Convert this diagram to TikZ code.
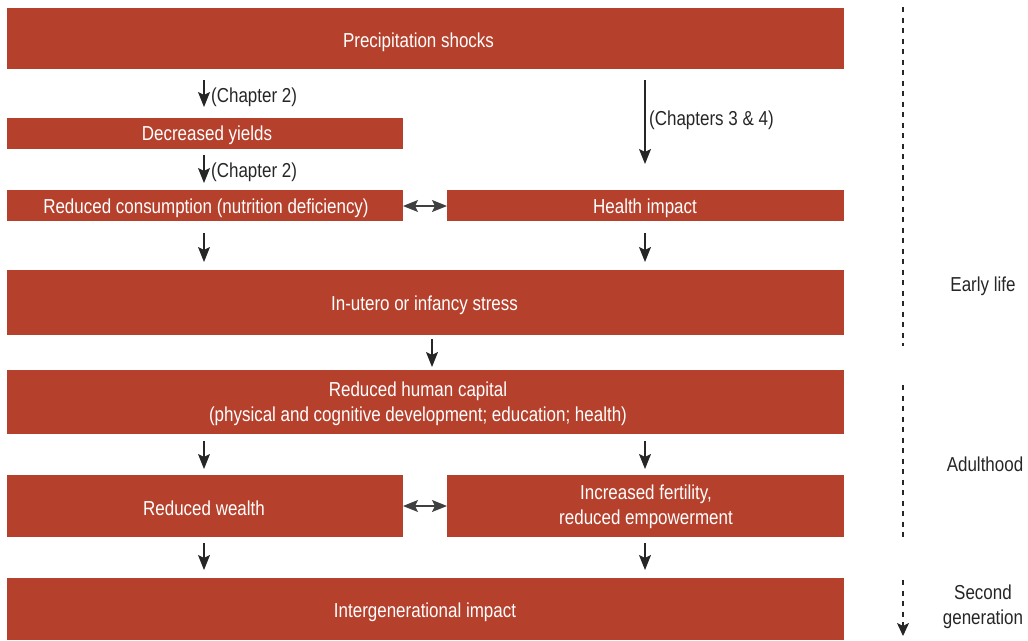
\documentclass[tikz,border=0pt]{standalone}
\usepackage{fontspec}
\setmainfont[FakeStretch=0.84]{Liberation Sans}
\usetikzlibrary{arrows.meta}
\definecolor{boxred}{HTML}{B5412D}
\begin{document}
\begin{tikzpicture}[x=1pt,y=-1pt,
  bx/.style={fill=boxred,draw=none,text=white,align=center,inner sep=0pt},
  arr/.style={-{Stealth[length=15pt,width=12pt,inset=3pt]},line width=1.2pt,draw=black!85},
  darr/.style={{Stealth[length=15pt,width=12pt,inset=3pt]}-{Stealth[length=15pt,width=12pt,inset=3pt]},line width=1.2pt,draw=black!75},
  dsh/.style={dash pattern=on 5pt off 5.5pt,line width=1.2pt,draw=black!85},
  lbl/.style={text=black!85,inner sep=0pt},
  font=\fontsize{20.2}{25}\selectfont]
\useasboundingbox (0,0) rectangle (1028,640);
% boxes
\fill[boxred] (7,8) rectangle (844,69);
\node[bx] (prec) at (418.5,42) {Precipitation shocks};
\fill[boxred] (7,118) rectangle (403,149);
\node[bx] (yield) at (207,135.5) {Decreased yields};
\fill[boxred] (7,190) rectangle (403,221);
\node[bx] (cons) at (206,208) {Reduced consumption (nutrition deficiency)};
\fill[boxred] (447,190) rectangle (844,221);
\node[bx] (health) at (645,208) {Health impact};
\fill[boxred] (7,270) rectangle (844,335);
\node[bx] (utero) at (424.5,305) {In-utero or infancy stress};
\fill[boxred] (7,370) rectangle (844,434);
\node[bx] (hc) at (418,403.5) {Reduced human capital\\(physical and cognitive development; education; health)};
\fill[boxred] (7,475) rectangle (403,537);
\node[bx] (wealth) at (204,508.5) {Reduced wealth};
\fill[boxred] (447,475) rectangle (844,537);
\node[bx] (fert) at (646,506.5) {Increased fertility,\\reduced empowerment};
\fill[boxred] (7,578) rectangle (844,640);
\node[bx] (inter) at (425,612) {Intergenerational impact};
% arrows
\coordinate (a1s) at (204,80); \coordinate (a1e) at (204,107);
\draw[arr] (a1s) -- (a1e);
\node[lbl,anchor=west] (l1) at (211,97) {(Chapter 2)};
\coordinate (a2s) at (204,155); \coordinate (a2e) at (204,183);
\draw[arr] (a2s) -- (a2e);
\node[lbl,anchor=west] (l2) at (211,172) {(Chapter 2)};
\coordinate (a3s) at (645,80); \coordinate (a3e) at (645,164);
\draw[arr] (a3s) -- (a3e);
\node[lbl,anchor=west] (l3) at (649,120) {(Chapters 3 \& 4)};
\coordinate (d1a) at (403,206); \coordinate (d1b) at (447,206);
\draw[darr] (d1a) -- (d1b);
\coordinate (a4s) at (204,233); \coordinate (a4e) at (204,262);
\draw[arr] (a4s) -- (a4e);
\coordinate (a5s) at (645,233); \coordinate (a5e) at (645,262);
\draw[arr] (a5s) -- (a5e);
\coordinate (a6s) at (432,339); \coordinate (a6e) at (432,367);
\draw[arr] (a6s) -- (a6e);
\coordinate (a7s) at (204,441); \coordinate (a7e) at (204,469);
\draw[arr] (a7s) -- (a7e);
\coordinate (a8s) at (645,441); \coordinate (a8e) at (645,469);
\draw[arr] (a8s) -- (a8e);
\coordinate (d2a) at (403,506); \coordinate (d2b) at (447,506);
\draw[darr] (d2a) -- (d2b);
\coordinate (a9s) at (204,543); \coordinate (a9e) at (204,570);
\draw[arr] (a9s) -- (a9e);
\coordinate (a10s) at (645,543); \coordinate (a10e) at (645,570);
\draw[arr] (a10s) -- (a10e);
% timeline
\coordinate (t1a) at (903,7); \coordinate (t1b) at (903,346);
\draw[dsh] (t1a) -- (t1b);
\coordinate (t2a) at (903,385); \coordinate (t2b) at (903,541);
\draw[dsh] (t2a) -- (t2b);
\coordinate (t3a) at (903,580); \coordinate (t3b) at (903,636);
\draw[dsh,-{Stealth[length=13pt,width=12pt,inset=3pt]}] (t3a) -- (t3b);
\node[lbl] (early) at (983,286) {Early life};
\node[lbl] (adult) at (985,464) {Adulthood};
\node[lbl,align=center] (second) at (983,607) {Second\\generation};
\end{tikzpicture}
\end{document}
